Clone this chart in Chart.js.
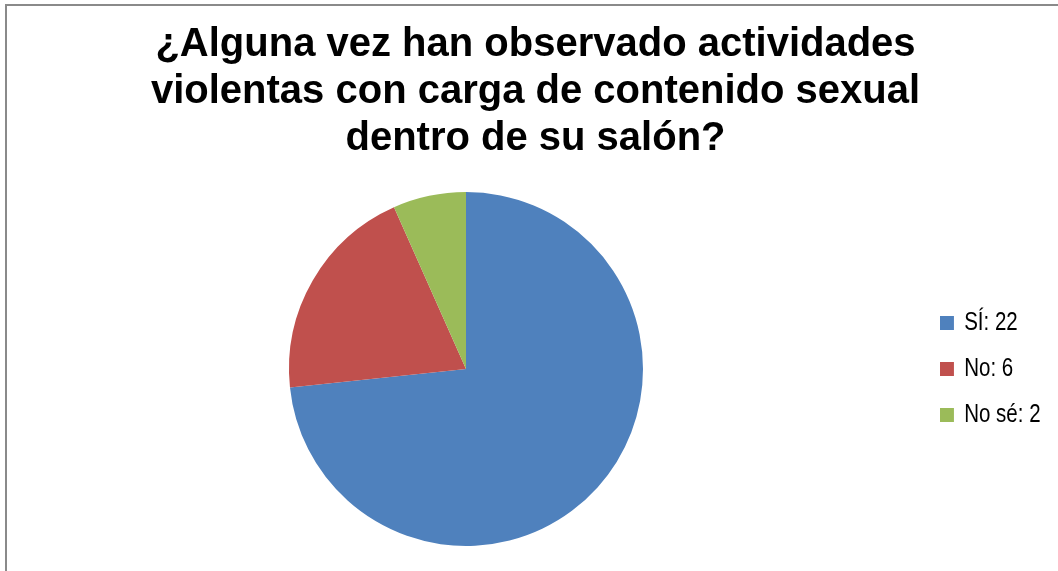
<!DOCTYPE html>
<html>
<head>
<meta charset="utf-8">
<script src="https://cdn.jsdelivr.net/npm/chart.js@4/dist/chart.umd.min.js"></script>
<style>
  html, body { margin: 0; padding: 0; background: #fff; overflow: hidden; }
  #frame { position: absolute; left: 5px; top: 4px; width: 1070px; height: 590px; border: 2px solid #8a8a8a; }
  #wrap { position: absolute; left: 0; top: 0; width: 1058px; height: 571px; }
</style>
</head>
<body>
<div id="frame"></div>
<div id="wrap"><canvas id="myChartPie"></canvas></div>
<script>
// datos
const categorias = ['SÍ', 'No', 'No sé'];
const valores = [22, 6, 2];
const colores = ['#4F81BD', '#C0504D', '#9BBB59'];
const tituloLineas = [
    '¿Alguna vez han observado actividades',
    'violentas con carga de contenido sexual',
    'dentro de su salón?'
];

// la leyenda del original usa letra estrecha: se comprime en horizontal
const leyendaEstrecha = {
    id: 'leyendaEstrecha',
    afterInit: function (chart) {
        const lg = chart.legend;
        const drawLeyenda = lg.draw.bind(lg);
        lg.draw = function (area) {
            const c = this.ctx;
            const escala = 0.82;
            const pivote = this.legendHitBoxes.length ? this.legendHitBoxes[0].left : this.left;
            // ensanchar la zona de recorte para que no corte el texto comprimido
            const derecha = this.right;
            this.right = pivote + (derecha - pivote) / escala + 20;
            c.save();
            c.translate(pivote, 0);
            c.scale(escala, 1);
            c.translate(-pivote, 0);
            drawLeyenda(area);
            c.restore();
            this.right = derecha;
        };
    }
};

function initializeChartPie() {
    var ctx = document.getElementById('myChartPie').getContext('2d');
    var etiquetas = categorias.map((c, i) => c + ': ' + valores[i]);
    var myChart = new Chart(ctx, {
        type: 'pie',
        data: {
            labels: etiquetas,
            datasets: [{
                data: valores,
                backgroundColor: colores,
                borderWidth: 0
            }]
        },
        options: {
            responsive: true,
            maintainAspectRatio: false,
            animation: false,
            layout: {
                padding: { left: 13, right: 0, top: 0, bottom: 25 }
            },
            plugins: {
                title: {
                    display: true,
                    text: tituloLineas,
                    color: '#000',
                    font: { family: '"Liberation Sans", Arial, sans-serif', size: 40, weight: 'bold', lineHeight: 1.175 },
                    padding: { top: 21, bottom: 30 }
                },
                legend: {
                    position: 'right',
                    fullSize: false,
                    maxWidth: 139,
                    labels: {
                        color: '#000',
                        boxWidth: 17,
                        boxHeight: 14,
                        padding: 21,
                        font: { family: '"Liberation Sans", Arial, sans-serif', size: 25 }
                    }
                },
                tooltip: { enabled: false }
            }
        },
        plugins: [leyendaEstrecha]
    });
}

initializeChartPie();
</script>
</body>
</html>
